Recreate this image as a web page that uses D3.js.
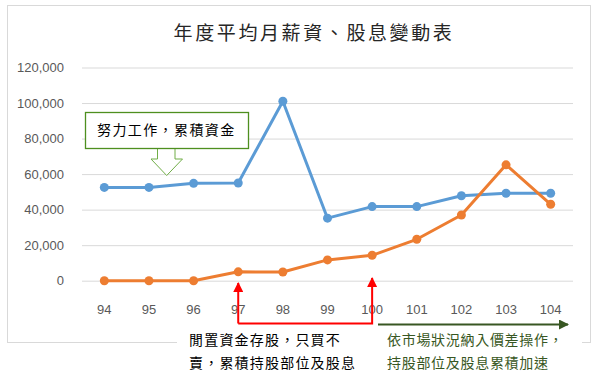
<!DOCTYPE html>
<meta charset="utf-8">
<title>年度平均月薪資、股息變動表</title>
<script src="https://d3js.org/d3.v7.min.js"></script>
<style>
  body { margin: 0; background: #fff; }
  text { font-family: "Noto Sans CJK TC", sans-serif; }
  .tick text { font-family: "Liberation Sans", Arial, sans-serif; }
</style>
<body>
<svg width="600" height="382"></svg>
<script>

// Chart values
var years = ["94", "95", "96", "97", "98", "99", "100", "101", "102", "103", "104"];
var salary = [52500, 52500, 54800, 55000, 101000, 35200, 41700, 41700, 47800, 49200, 49200];
var dividend = [0, 0, 0, 5000, 4900, 11700, 14300, 23300, 37000, 65200, 43000];
var yTicks = [0, 20000, 40000, 60000, 80000, 100000, 120000];

var svg = d3.select("svg");

// chart frame
svg.append("rect")
    .attr("x", 7.5).attr("y", 5.5)
    .attr("width", 583).attr("height", 337)
    .attr("fill", "#fff")
    .attr("stroke", "#d9d9d9");

// title
svg.append("text")
    .attr("x", 314).attr("y", 40)
    .attr("text-anchor", "middle")
    .attr("font-size", 19)
    .attr("letter-spacing", 2.6)
    .attr("fill", "#262626")
    .text("年度平均月薪資、股息變動表");

var x = d3.scaleBand()
    .domain(years)
    .range([82, 573]);

var y = d3.scaleLinear()
    .domain([0, 120000])
    .range([280.7, 67.5]);

function cx(d) { return x(d) + x.bandwidth() / 2; }

// y axis with gridlines
var yAxis = d3.axisLeft(y)
    .tickValues(yTicks)
    .tickSize(-(573 - 82))
    .tickPadding(18)
    .tickFormat(d3.format(","));

var gy = svg.append("g")
    .attr("transform", "translate(82,0)")
    .call(yAxis);
gy.select(".domain").remove();
gy.selectAll(".tick line").attr("stroke", "#d9d9d9");
gy.selectAll(".tick text")
    .attr("fill", "#595959")
    .attr("font-size", 13);

// x axis labels
var xAxis = d3.axisBottom(x).tickSize(0).tickPadding(24);
var gx = svg.append("g")
    .attr("transform", "translate(0,280.7)")
    .call(xAxis);
gx.select(".domain").remove();
gx.selectAll(".tick text")
    .attr("fill", "#595959")
    .attr("font-size", 13);

// series
var series = [
  {values: salary, color: "#5b9bd5"},
  {values: dividend, color: "#ed7d31"}
];

var line = d3.line()
    .x(function(d, i) { return cx(years[i]); })
    .y(function(d) { return y(d); });

series.forEach(function(s) {
  svg.append("path")
      .datum(s.values)
      .attr("d", line)
      .attr("fill", "none")
      .attr("stroke", s.color)
      .attr("stroke-width", 3)
      .attr("stroke-linejoin", "round");

  svg.selectAll(null)
      .data(s.values)
      .enter().append("circle")
      .attr("cx", function(d, i) { return cx(years[i]); })
      .attr("cy", function(d) { return y(d); })
      .attr("r", 4.5)
      .attr("fill", s.color);
});

// arrowhead markers
var defs = svg.append("defs");
[["red", "#ff0000"], ["green", "#385723"]].forEach(function(m) {
  defs.append("marker")
      .attr("id", "arrow-" + m[0])
      .attr("viewBox", "0 0 10 10")
      .attr("refX", 9).attr("refY", 5)
      .attr("markerWidth", 5).attr("markerHeight", 5)
      .attr("orient", "auto")
    .append("path")
      .attr("d", "M0,0L10,5L0,10z")
      .attr("fill", m[1]);
});

// callout: 努力工作，累積資金
svg.append("path")
    .attr("d", "M157.5,148.5V159H151L166.7,175.5L182.5,159H175V148.5")
    .attr("fill", "#fff")
    .attr("stroke", "#70ad47")
    .attr("stroke-width", 1);
svg.append("rect")
    .attr("x", 85.5).attr("y", 112.5)
    .attr("width", 163).attr("height", 36)
    .attr("fill", "#fff")
    .attr("stroke", "#4e8f1f")
    .attr("stroke-width", 1.3);
svg.append("text")
    .attr("x", 97).attr("y", 135)
    .attr("font-size", 14)
    .attr("letter-spacing", 1.4)
    .attr("fill", "#000")
    .text("努力工作，累積資金");

// text boxes over the frame bottom
svg.append("rect")
    .attr("x", 177).attr("y", 329)
    .attr("width", 405).attr("height", 53)
    .attr("fill", "#fff");

// red bracket arrows
var xa = cx("97"), xb = cx("100");
svg.append("path")
    .attr("d", "M" + xa + ",323.5V283")
    .attr("fill", "none")
    .attr("stroke", "#ff0000")
    .attr("stroke-width", 2)
    .attr("marker-end", "url(#arrow-red)");
svg.append("path")
    .attr("d", "M" + xa + ",323.5H" + xb + "V278")
    .attr("fill", "none")
    .attr("stroke", "#ff0000")
    .attr("stroke-width", 2)
    .attr("marker-end", "url(#arrow-red)");

svg.append("text")
    .attr("x", 189).attr("y", 345)
    .attr("font-size", 14)
    .attr("letter-spacing", 1.2)
    .attr("fill", "#000")
    .text("閒置資金存股，只買不");
svg.append("text")
    .attr("x", 189).attr("y", 368)
    .attr("font-size", 14)
    .attr("letter-spacing", 1.2)
    .attr("fill", "#000")
    .text("賣，累積持股部位及股息");

// green arrow
svg.append("path")
    .attr("d", "M378,324.5H568")
    .attr("fill", "none")
    .attr("stroke", "#385723")
    .attr("stroke-width", 2)
    .attr("marker-end", "url(#arrow-green)");

svg.append("text")
    .attr("x", 387).attr("y", 345)
    .attr("font-size", 14)
    .attr("letter-spacing", 0.7)
    .attr("fill", "#385723")
    .text("依市場狀況納入價差操作，");
svg.append("text")
    .attr("x", 387).attr("y", 368)
    .attr("font-size", 14)
    .attr("letter-spacing", 0.7)
    .attr("fill", "#385723")
    .text("持股部位及股息累積加速");

</script>
</body>
